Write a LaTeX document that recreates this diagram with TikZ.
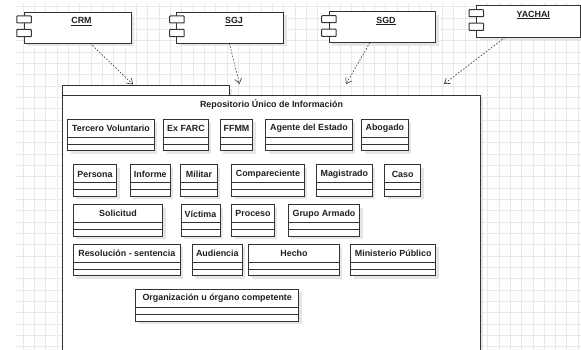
\documentclass[tikz,border=0pt]{standalone}
\usepackage{fontspec}
\setmainfont{Liberation Sans}
\usetikzlibrary{arrows.meta}
\definecolor{linec}{HTML}{333333}
\definecolor{gridc}{HTML}{E9E9E9}
\definecolor{shadc}{HTML}{E6E6E6}
\tikzset{
  gridline/.style={draw=gridc, line width=0.7pt},
  cls/.style={draw=linec, line width=1pt},
  lbl/.style={font=\fontsize{8.9}{10}\selectfont\bfseries, text=black!88, inner sep=0pt},
  depend/.style={draw=linec, line width=0.6pt, dash pattern=on 1.6pt off 1.6pt, -{Straight Barb[length=5pt,width=7pt]}},
}
\newcommand{\umlcls}[8]{%
  \fill[shadc] (#2+3,#4+3) rectangle (#3+3,#7+3);
  \filldraw[cls, fill=white] (#2,#4) rectangle (#3,#7);
  \draw[cls] (#2,#5) -- (#3,#5);
  \draw[cls] (#2,#6) -- (#3,#6);
  \node[lbl] (#1) at ({(#2+#3)/2},{(#4+#5)/2+0.3}) {#8};
}
\newcommand{\umlcomp}[9]{% name, x1,y1,x2,y2, tabx1,tabx2, labelx, text
  \fill[shadc] (#2+3,#3+3) rectangle (#4+3,#5+3);
  \filldraw[cls, fill=white] (#2,#3) rectangle (#4,#5);
  \filldraw[cls, fill=white, rounded corners=0.6pt] (#6,{#3+3.7}) rectangle (#7,{#3+10.7});
  \filldraw[cls, fill=white, rounded corners=0.6pt] (#6,{#3+17.2}) rectangle (#7,{#3+24.4});
  \node[lbl] (#1) at (#8,{#3+9}) {\underline{#9}};
}
\begin{document}
\begin{tikzpicture}[x=1pt,y=-1pt]
\useasboundingbox (0,0) rectangle (581,350);
\fill[white] (0,0) rectangle (581,350);
% grid
\foreach \i in {0,...,49} \draw[gridline] ({23+11.33*\i},3) -- ({23+11.33*\i},350);
\foreach \j in {0,...,30} \draw[gridline] (15,{6.7+11.33*\j}) -- (581,{6.7+11.33*\j});
% package
\fill[shadc] (65.3,89) rectangle (232.3,98.3);
\fill[shadc] (65.3,98.3) rectangle (483.3,350);
\filldraw[cls, fill=white] (62.3,350) -- (62.3,86) -- (229.3,86) -- (229.3,95.3) -- (480.3,95.3) -- (480.3,350);
\draw[cls] (62.3,95.3) -- (229.3,95.3);
\node[lbl] (repo) at (271.5,104.8) {Repositorio Único de Información};
% components
\umlcomp{crm}{24}{12.3}{131}{43.2}{16.8}{31.3}{81.5}{CRM}
\umlcomp{sgj}{176.7}{12.3}{283.7}{43.2}{169.7}{184.2}{234}{SGJ}
\umlcomp{sgd}{329.3}{12}{435.7}{42.7}{321.7}{336.2}{386}{SGD}
\umlcomp{yachai}{476.7}{6}{580.3}{37.4}{469}{483.5}{533.3}{YACHAI}
% arrow end points
\coordinate (crmS) at (90,43.2);
\coordinate (sgjS) at (229.3,43.2);
\coordinate (sgdS) at (370,42.7);
\coordinate (yacS) at (505,37.4);
\coordinate (crmE) at (133,84.5);
\coordinate (sgjE) at (239.5,84);
\coordinate (sgdE) at (346,84);
\coordinate (yacE) at (444,84);
\draw[depend] (crmS) -- (crmE);
\draw[depend] (sgjS) -- (sgjE);
\draw[depend] (sgdS) -- (sgdE);
\draw[depend] (yacS) -- (yacE);
% classes row 1
\umlcls{tv}{67.7}{154.3}{119.3}{137.3}{144.7}{150.7}{Tercero Voluntario}
\umlcls{exfarc}{163.7}{208.3}{119.3}{137.3}{144.7}{150.7}{Ex FARC}
\umlcls{ffmm}{220.3}{252.7}{119.3}{137.3}{144.7}{150.7}{FFMM}
\umlcls{agente}{265.7}{352.3}{119.3}{137.3}{144.7}{150.7}{Agente del Estado}
\umlcls{abogado}{361.7}{408}{119.3}{137.3}{144.7}{150.7}{Abogado}
% row 2
\umlcls{persona}{73.3}{116.7}{164.7}{182.7}{189.3}{196}{Persona}
\umlcls{informe}{130.3}{170.3}{164.7}{182.7}{189.3}{196}{Informe}
\umlcls{militar}{180.7}{217.3}{164.7}{182.7}{189.3}{196}{Militar}
\umlcls{compar}{231.7}{304.3}{164.7}{182.7}{189.3}{196}{Compareciente}
\umlcls{magis}{316.7}{372}{164.7}{182.7}{189.3}{196}{Magistrado}
\umlcls{caso}{384.7}{420.7}{164.7}{182.7}{189.3}{196}{Caso}
% row 3
\umlcls{solic}{73.3}{162.7}{204.7}{222.3}{229.3}{236}{Solicitud}
\umlcls{victima}{181}{220}{204.7}{222.3}{229.3}{236}{Víctima}
\umlcls{proceso}{231.7}{274.3}{204.7}{222.3}{229.3}{236}{Proceso}
\umlcls{grupo}{288.3}{359.7}{204.7}{222.3}{229.3}{236}{Grupo Armado}
% row 4
\umlcls{resol}{73.3}{180.3}{244.3}{262}{269}{275.7}{Resolución - sentencia}
\umlcls{audi}{192.3}{242.3}{244.3}{262}{269}{275.7}{Audiencia}
\umlcls{hecho}{248.7}{339.3}{244.3}{262}{269}{275.7}{Hecho}
\umlcls{minis}{350.7}{435.7}{244.3}{262}{269}{275.7}{Ministerio Público}
% row 5
\umlcls{organ}{135.7}{298.7}{289.3}{307.3}{314}{321}{Organización u órgano competente}
\end{tikzpicture}
\end{document}
